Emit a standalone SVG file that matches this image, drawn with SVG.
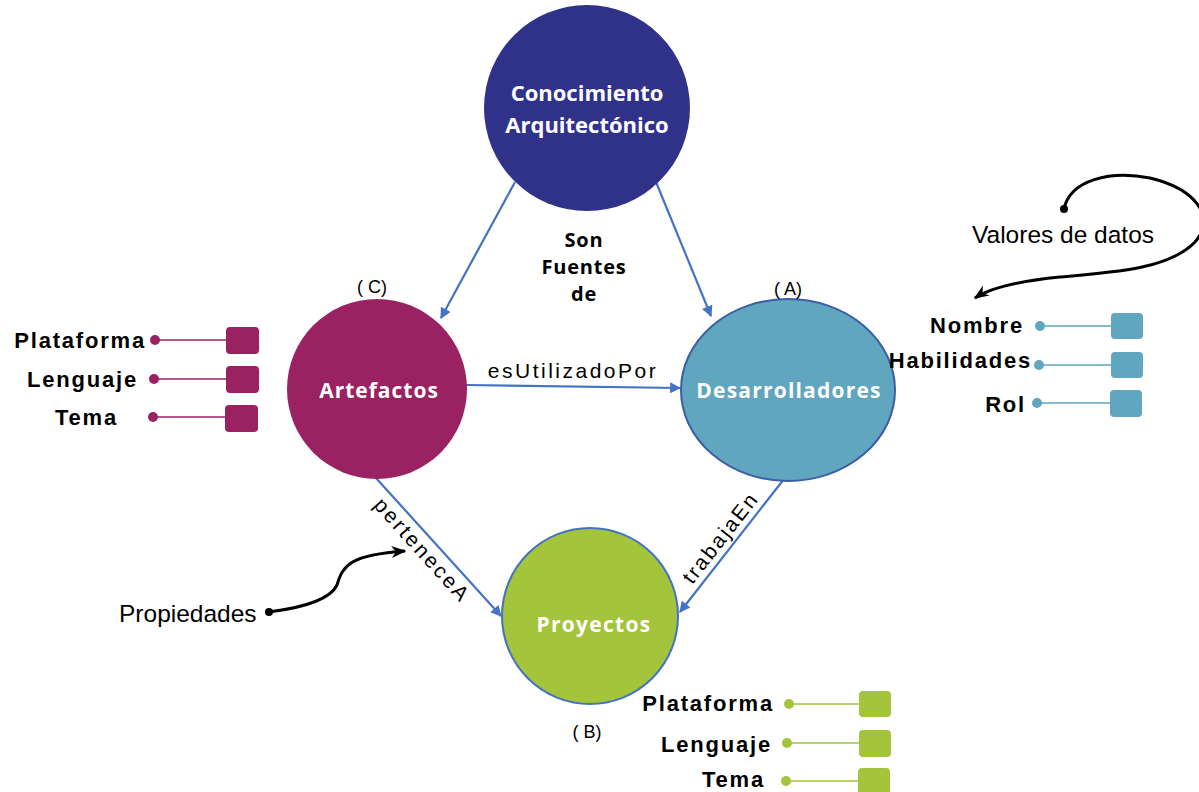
<svg xmlns="http://www.w3.org/2000/svg" width="1199" height="792" viewBox="0 0 1199 792">
<defs>
<marker id="ab" viewBox="0 0 10 10" refX="9" refY="5" markerWidth="13" markerHeight="11" orient="auto" markerUnits="userSpaceOnUse">
<path d="M0,0 L10,5 L0,10 z" fill="#4472C4"/>
</marker>
<marker id="ak" viewBox="0 0 10 10" refX="9" refY="5" markerWidth="15" markerHeight="15" orient="auto" markerUnits="userSpaceOnUse">
<path d="M0,1 L10,5 L0,9 L3,5 z" fill="#000"/>
</marker>
</defs>
<style>
.node{font-family:"Open Sans","DejaVu Sans",sans-serif;font-weight:700;fill:#fff;text-anchor:middle}
.lbl{font-family:"Open Sans","DejaVu Sans",sans-serif;font-weight:700;fill:#000;text-anchor:middle;font-size:20px;letter-spacing:0.8px}
.attr{font-family:"Liberation Sans",Arial,sans-serif;font-weight:700;font-size:22px;letter-spacing:1.8px;fill:#000;text-anchor:end}
.rel{font-family:"Liberation Sans",Arial,sans-serif;font-size:21px;fill:#000}
.note{font-family:"Liberation Sans",Arial,sans-serif;font-size:24.5px;fill:#000}
.tag{font-family:"Liberation Sans",Arial,sans-serif;font-size:18px;fill:#000;text-anchor:middle}
.conn{stroke:#4472C4;stroke-width:2.2;fill:none;marker-end:url(#ab)}
.curve{stroke:#000;stroke-width:3;fill:none}
</style>

<g id="connectors">
<line class="conn" x1="515" y1="182" x2="441" y2="318"/>
<line class="conn" x1="656" y1="182" x2="711" y2="316"/>
<line class="conn" x1="466" y1="385" x2="680" y2="388"/>
<line class="conn" x1="376" y1="478" x2="501" y2="616"/>
<line class="conn" x1="784" y1="479" x2="680" y2="612"/>
<text class="rel" x="573" y="378" text-anchor="middle" letter-spacing="2.5">esUtilizadoPor</text>
<text class="rel" transform="translate(417,555) rotate(48)" text-anchor="middle" font-size="24" letter-spacing="2.5">perteneceA</text>
<text class="rel" transform="translate(726,542) rotate(-52)" text-anchor="middle" font-size="24" letter-spacing="2.2">trabajaEn</text>
</g>

<g id="conocimiento">
<circle cx="587" cy="108" r="103" fill="#303189"/>
<text class="node" x="587" y="101" font-size="22">Conocimiento</text>
<text class="node" x="587" y="133" font-size="22">Arquitectónico</text>
</g>

<g id="son-fuentes">
<text class="lbl" x="584" y="247">Son</text>
<text class="lbl" x="584" y="274">Fuentes</text>
<text class="lbl" x="584" y="301">de</text>
</g>

<g id="artefactos">
<circle cx="377" cy="389" r="90" fill="#9A2263"/>
<text class="node" x="379" y="398" font-size="21" letter-spacing="1">Artefactos</text>
<text class="tag" x="372" y="293">( C)</text>
</g>

<g id="desarrolladores">
<ellipse cx="788" cy="390" rx="107" ry="91" fill="#5FA6BE" stroke="#3B5EA6" stroke-width="2"/>
<text class="node" x="789" y="398" font-size="21" letter-spacing="1.2">Desarrolladores</text>
<text class="tag" x="788" y="295">( A)</text>
</g>

<g id="proyectos">
<circle cx="590" cy="616" r="88" fill="#A4C43B" stroke="#4472C4" stroke-width="2"/>
<text class="node" x="594" y="632" font-size="21" letter-spacing="1.3">Proyectos</text>
<text class="tag" x="587" y="738">( B)</text>
</g>

<g id="attr-artefactos" fill="#9A2263" stroke="#9A2263">
<text class="attr" x="146" y="348" stroke="none">Plataforma</text>
<text class="attr" x="138" y="387" stroke="none">Lenguaje</text>
<text class="attr" x="118" y="425" stroke="none">Tema</text>
<circle cx="155" cy="340" r="5" stroke="none"/>
<circle cx="154" cy="379" r="5" stroke="none"/>
<circle cx="153" cy="417" r="5" stroke="none"/>
<line x1="155" y1="340" x2="228" y2="340" stroke-width="1.5"/>
<line x1="154" y1="379" x2="228" y2="379" stroke-width="1.5"/>
<line x1="153" y1="417" x2="227" y2="417" stroke-width="1.5"/>
<rect x="226" y="327" width="33" height="27" rx="4" stroke="none"/>
<rect x="226" y="366" width="33" height="27" rx="4" stroke="none"/>
<rect x="225" y="405" width="33" height="27" rx="4" stroke="none"/>
</g>

<g id="attr-desarrolladores" fill="#5FA6BE" stroke="#5FA6BE">
<text class="attr" x="1024" y="333" stroke="none">Nombre</text>
<text class="attr" x="1032" y="368" stroke="none" letter-spacing="0.3">Habilidades</text>
<text class="attr" x="1026" y="412" stroke="none">Rol</text>
<circle cx="1040" cy="326" r="5" stroke="none"/>
<circle cx="1039" cy="365" r="5" stroke="none"/>
<circle cx="1037" cy="403" r="5" stroke="none"/>
<line x1="1040" y1="326" x2="1112" y2="326" stroke-width="1.5"/>
<line x1="1039" y1="365" x2="1112" y2="365" stroke-width="1.5"/>
<line x1="1037" y1="403" x2="1111" y2="403" stroke-width="1.5"/>
<rect x="1111" y="313" width="32" height="26" rx="4" stroke="none"/>
<rect x="1111" y="352" width="32" height="26" rx="4" stroke="none"/>
<rect x="1110" y="390" width="32" height="27" rx="4" stroke="none"/>
</g>

<g id="attr-proyectos" fill="#A4C43B" stroke="#A4C43B">
<text class="attr" x="774" y="711" stroke="none">Plataforma</text>
<text class="attr" x="772" y="752" stroke="none">Lenguaje</text>
<text class="attr" x="765" y="787" stroke="none">Tema</text>
<circle cx="789" cy="704" r="5" stroke="none"/>
<circle cx="787" cy="743" r="5" stroke="none"/>
<circle cx="786" cy="781" r="5" stroke="none"/>
<line x1="789" y1="704" x2="860" y2="704" stroke-width="1.5"/>
<line x1="787" y1="743" x2="860" y2="743" stroke-width="1.5"/>
<line x1="786" y1="781" x2="859" y2="781" stroke-width="1.5"/>
<rect x="859" y="691" width="32" height="26" rx="4" stroke="none"/>
<rect x="859" y="730" width="32" height="27" rx="4" stroke="none"/>
<rect x="858" y="768" width="32" height="27" rx="4" stroke="none"/>
</g>

<g id="propiedades">
<text class="note" x="119" y="622">Propiedades</text>
<circle cx="269" cy="612" r="4" fill="#000"/>
<path class="curve" d="M269,612 C300,608 330,600 337,585 C343,565 350,555 405,551" marker-end="url(#ak)"/>
</g>

<g id="valores">
<text class="note" x="972" y="243" font-size="25.5">Valores de datos</text>
<circle cx="1064" cy="209" r="4" fill="#000"/>
<path class="curve" d="M1064,209 C1070,180 1110,170 1150,178 C1200,190 1215,220 1195,242 C1170,268 1120,272 1060,277 C1020,281 990,288 975,298" marker-end="url(#ak)"/>
</g>
</svg>
